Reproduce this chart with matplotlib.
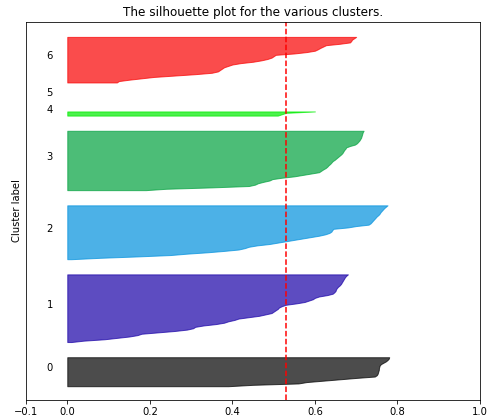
"""
Silhouette plot for the various clusters
"""

import numpy as np
import matplotlib
matplotlib.use("Agg")
import matplotlib.pyplot as plt
import matplotlib.cm as cm

n_clusters = 7
silhouette_avg = 0.53

# sorted silhouette values per cluster
sil_0 = [0.39, 0.45, 0.56, 0.58, 0.62, 0.66, 0.70, 0.745, 0.750, 0.752, 0.753,
         0.754, 0.755, 0.755, 0.756, 0.757, 0.760, 0.766, 0.772, 0.776, 0.779, 0.780]
sil_1 = [0.01, 0.04, 0.09, 0.12, 0.15, 0.17, 0.18, 0.22, 0.26, 0.29,
         0.305, 0.31, 0.33, 0.36, 0.38, 0.39, 0.405, 0.415, 0.44, 0.465,
         0.48, 0.495, 0.50, 0.505, 0.51, 0.513, 0.52, 0.53, 0.555, 0.575,
         0.585, 0.595, 0.60, 0.61, 0.63, 0.643, 0.647, 0.65, 0.651, 0.653,
         0.656, 0.66, 0.663, 0.665, 0.667, 0.669, 0.671, 0.673, 0.676, 0.68]
sil_2 = [0.01, 0.08, 0.17, 0.25, 0.29, 0.34, 0.38, 0.415, 0.43, 0.44,
         0.46, 0.49, 0.51, 0.53, 0.55, 0.57, 0.59, 0.61, 0.625, 0.635,
         0.64, 0.642, 0.645, 0.68, 0.70, 0.73, 0.735, 0.738, 0.741, 0.744,
         0.747, 0.75, 0.754, 0.757, 0.759, 0.762, 0.765, 0.768, 0.772, 0.776]
sil_3 = [0.19, 0.24, 0.35, 0.44, 0.455, 0.462, 0.475, 0.49, 0.497, 0.52,
         0.55, 0.57, 0.59, 0.61, 0.615, 0.62, 0.626, 0.63, 0.633, 0.637,
         0.64, 0.643, 0.648, 0.652, 0.656, 0.66, 0.664, 0.667, 0.669, 0.671,
         0.674, 0.676, 0.685, 0.697, 0.702, 0.705, 0.708, 0.71, 0.712, 0.713,
         0.714, 0.715, 0.716, 0.718]
sil_4 = [0.51, 0.52, 0.53, 0.60]
sil_5 = []
sil_6 = [0.12, 0.125, 0.15, 0.18, 0.21, 0.26, 0.31, 0.35, 0.365, 0.37,
         0.375, 0.38, 0.39, 0.40, 0.42, 0.45, 0.47, 0.485, 0.495, 0.50,
         0.505, 0.55, 0.58, 0.60, 0.607, 0.613, 0.62, 0.627, 0.66, 0.685,
         0.688, 0.69, 0.695, 0.70]

clusters = [sil_0, sil_1, sil_2, sil_3, sil_4, sil_5, sil_6]
n_samples = sum(len(c) for c in clusters)

xticks = [-0.1, 0, 0.2, 0.4, 0.6, 0.8, 1]

fig = plt.figure(figsize=(487 / 72, 419 / 72), dpi=72)
ax = fig.add_axes([0.0534, 0.0453, 0.9322, 0.9029])

ax.set_xlim([-0.1, 1])
ax.set_ylim([0, n_samples + (n_clusters + 1) * 10])

y_lower = 10
for i, vals in enumerate(clusters):
    vals = np.sort(np.array(vals, dtype=float))
    size_cluster_i = len(vals)
    y_upper = y_lower + size_cluster_i

    color = cm.nipy_spectral(float(i) / n_clusters)
    if size_cluster_i:
        ax.fill_betweenx(np.arange(y_lower, y_upper), 0, vals,
                         facecolor=color, edgecolor=color, alpha=0.7)

    # label the clusters with their numbers at the middle
    ax.text(-0.05, y_lower + 0.5 * size_cluster_i, str(i), fontsize=10)

    y_lower = y_upper + 10

ax.set_title("The silhouette plot for the various clusters.", fontsize=12)
ax.set_ylabel("Cluster label", fontsize=10)

ax.axvline(x=silhouette_avg, color="red", linestyle="--")

ax.set_yticks([])
ax.set_xticks(xticks)
ax.tick_params(labelsize=10)

fig.savefig("out.png", dpi=72)
